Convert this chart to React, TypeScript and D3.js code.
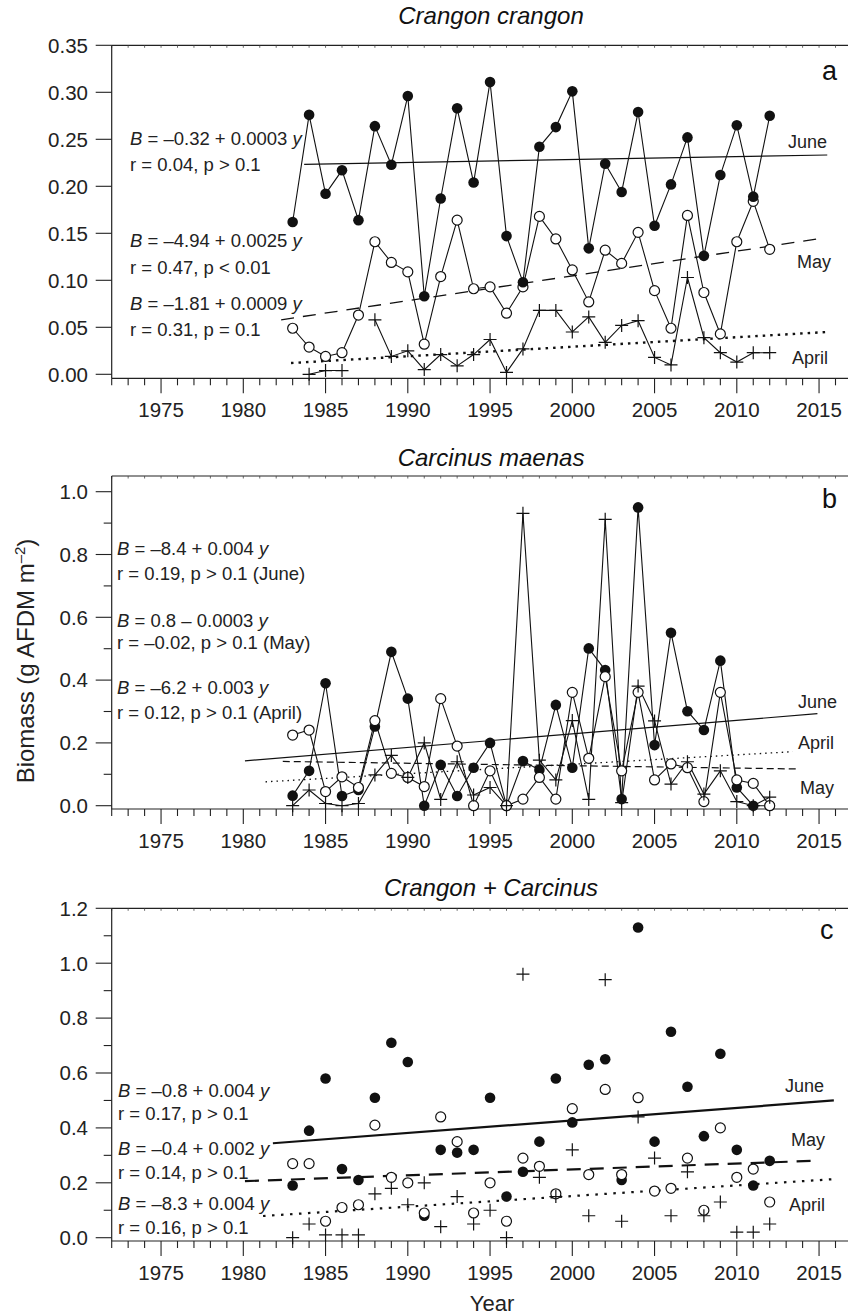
import React from 'react';
import * as d3 from 'd3';

// ---- data -------------------------------------------------------------
const years = [
  1983, 1984, 1985, 1986, 1987, 1988, 1989, 1990, 1991, 1992,
  1993, 1994, 1995, 1996, 1997, 1998, 1999, 2000, 2001, 2002,
  2003, 2004, 2005, 2006, 2007, 2008, 2009, 2010, 2011, 2012,
];
const yearTickLabels = [1975, 1980, 1985, 1990, 1995, 2000, 2005, 2010, 2015];

// Crangon crangon biomass (g AFDM m-2)
const crangonJune = [0.162, 0.276, 0.192, 0.217, 0.164, 0.264, 0.223, 0.296, 0.083, 0.187, 0.283, 0.204, 0.311, 0.147, 0.098, 0.242, 0.263, 0.301, 0.134, 0.224, 0.194, 0.279, 0.158, 0.202, 0.252, 0.126, 0.212, 0.265, 0.189, 0.275];
const crangonMay = [0.049, 0.029, 0.019, 0.023, 0.063, 0.141, 0.119, 0.109, 0.032, 0.104, 0.164, 0.091, 0.093, 0.065, 0.093, 0.168, 0.144, 0.111, 0.077, 0.132, 0.118, 0.151, 0.089, 0.049, 0.169, 0.087, 0.043, 0.141, 0.184, 0.133];
const crangonApril = [null, 0.0, 0.004, 0.004, null, 0.058, 0.019, 0.025, 0.005, 0.021, 0.009, 0.021, 0.037, 0.002, 0.027, 0.068, 0.068, 0.045, 0.061, 0.034, 0.052, 0.057, 0.018, 0.01, 0.103, 0.039, 0.023, 0.013, 0.023, 0.023];

// Carcinus maenas biomass
const carcinusJune = [0.032, 0.111, 0.39, 0.031, 0.05, 0.252, 0.49, 0.341, 0.0, 0.13, 0.031, 0.121, 0.2, 0.0, 0.142, 0.114, 0.321, 0.121, 0.501, 0.432, 0.021, 0.95, 0.193, 0.551, 0.301, 0.241, 0.462, 0.058, 0.0, 0.0];
const carcinusMay = [0.225, 0.241, 0.045, 0.092, 0.058, 0.271, 0.103, 0.09, 0.061, 0.341, 0.19, 0.0, 0.111, 0.0, 0.021, 0.09, 0.021, 0.361, 0.151, 0.411, 0.111, 0.361, 0.082, 0.133, 0.121, 0.013, 0.361, 0.082, 0.071, 0.0];
const carcinusApril = [0.0, 0.05, 0.007, 0.0, 0.007, 0.098, 0.16, 0.09, 0.2, 0.02, 0.14, 0.034, 0.058, 0.0, 0.931, 0.145, 0.082, 0.271, 0.02, 0.912, 0.01, 0.381, 0.27, 0.069, 0.14, 0.037, 0.111, 0.013, 0.0, 0.027];

// Crangon + Carcinus combined biomass
const combinedJune = [0.19, 0.39, 0.58, 0.25, 0.21, 0.51, 0.71, 0.64, 0.08, 0.32, 0.31, 0.32, 0.51, 0.15, 0.24, 0.35, 0.58, 0.42, 0.63, 0.65, 0.21, 1.13, 0.35, 0.75, 0.55, 0.37, 0.67, 0.32, 0.19, 0.28];
const combinedMay = [0.27, 0.27, 0.06, 0.11, 0.12, 0.41, 0.22, 0.2, 0.09, 0.44, 0.35, 0.09, 0.2, 0.06, 0.29, 0.26, 0.16, 0.47, 0.23, 0.54, 0.23, 0.51, 0.17, 0.18, 0.29, 0.1, 0.4, 0.22, 0.25, 0.13];
const combinedApril = [0.0, 0.05, 0.01, 0.01, 0.01, 0.16, 0.18, 0.12, 0.2, 0.04, 0.15, 0.05, 0.1, 0.0, 0.96, 0.22, 0.15, 0.32, 0.08, 0.94, 0.06, 0.44, 0.29, 0.08, 0.24, 0.08, 0.13, 0.02, 0.02, 0.05];

// Fitted regression lines: [startYear, startBiomass, endYear, endBiomass]
const crangonTrends = {
  june: [1983.7, 0.2234, 2015.5, 0.2333],
  may: [1982.3, 0.058, 2015.3, 0.145],
  april: [1982.9, 0.012, 2015.5, 0.045],
};
const carcinusTrends = {
  june: [1980.1, 0.143, 2014.9, 0.293],
  may: [1982.4, 0.141, 2013.6, 0.117],
  april: [1981.35, 0.076, 2013.4, 0.172],
};
const combinedTrends = {
  june: [1981.8, 0.344, 2015.9, 0.5],
  may: [1980.1, 0.206, 2014.6, 0.28],
  april: [1981.2, 0.079, 2015.8, 0.213],
};

// Regression equations and statistics
const crangonEquations = [
  ['–0.32 + 0.0003', 'r = 0.04, p > 0.1'],
  ['–4.94 + 0.0025', 'r = 0.47, p < 0.01'],
  ['–1.81 + 0.0009', 'r = 0.31, p = 0.1'],
];
const carcinusEquations = [
  ['–8.4 + 0.004', 'r = 0.19, p > 0.1 (June)'],
  ['0.8 – 0.0003', 'r = –0.02, p > 0.1 (May)'],
  ['–6.2 + 0.003', 'r = 0.12, p > 0.1 (April)'],
];
const combinedEquations = [
  ['–0.8 + 0.004', 'r = 0.17, p > 0.1'],
  ['–0.4 + 0.002', 'r = 0.14, p > 0.1'],
  ['–8.3 + 0.004', 'r = 0.16, p > 0.1'],
];

const monthNames = ['June', 'May', 'April'];

// ---- layout -----------------------------------------------------------
const FONT = "'Liberation Sans', Arial, Helvetica, sans-serif";
const W = 848;
const H = 1316;
const x = d3.scaleLinear().domain([1972, 2018]).range([111.7, 868.4]);

type Trend = number[];
type PanelDef = {
  title: string;
  letter: string;
  letterPos: [number, number];
  titleY: number;
  yMax: number;
  y0: number;
  yTop: number;
  frameTop: number;
  axisY: number;
  major: number;
  minor: number | null;
  fmt: string;
  connect: boolean;
  june: (number | null)[];
  may: (number | null)[];
  april: (number | null)[];
  trends: { june: Trend; may: Trend; april: Trend };
  trendStyle: { june: any; may: any; april: any };
  equations: string[][];
  eqX: number;
  eqY: number[];
  monthLabels: [number, number][];
  markerOrder: string[];
};

const panels: PanelDef[] = [
  {
    title: 'Crangon crangon',
    letter: 'a',
    letterPos: [822, 80],
    titleY: 24,
    yMax: 0.35,
    y0: 374.3,
    yTop: 45.3,
    frameTop: 45.3,
    axisY: 378.3,
    major: 0.05,
    minor: null,
    fmt: '.2f',
    connect: true,
    june: crangonJune,
    may: crangonMay,
    april: crangonApril,
    trends: crangonTrends,
    trendStyle: {
      june: { w: 1.2, dash: null },
      may: { w: 1.3, dash: '13,9' },
      april: { w: 2.4, dash: '2.5,5' },
    },
    equations: crangonEquations,
    eqX: 130,
    eqY: [138, 164, 240, 267, 303, 329],
    monthLabels: [[788, 142], [797, 262], [792, 358]],
    markerOrder: ['april', 'may', 'june'],
  },
  {
    title: 'Carcinus maenas',
    letter: 'b',
    letterPos: [822, 508],
    titleY: 466,
    yMax: 1.0,
    y0: 805.7,
    yTop: 491.7,
    frameTop: 476,
    axisY: 809,
    major: 0.2,
    minor: 0.1,
    fmt: '.1f',
    connect: true,
    june: carcinusJune,
    may: carcinusMay,
    april: carcinusApril,
    trends: carcinusTrends,
    trendStyle: {
      june: { w: 1.2, dash: null },
      may: { w: 1.2, dash: '7,4' },
      april: { w: 1.3, dash: '1.5,4' },
    },
    equations: carcinusEquations,
    eqX: 117,
    eqY: [548, 573, 620, 642, 687, 712],
    monthLabels: [[798, 702], [800, 788], [798, 743]],
    markerOrder: ['june', 'may', 'april'],
  },
  {
    title: 'Crangon + Carcinus',
    letter: 'c',
    letterPos: [820, 939],
    titleY: 896,
    yMax: 1.2,
    y0: 1237.7,
    yTop: 908.3,
    frameTop: 908.3,
    axisY: 1241,
    major: 0.2,
    minor: 0.1,
    fmt: '.1f',
    connect: false,
    june: combinedJune,
    may: combinedMay,
    april: combinedApril,
    trends: combinedTrends,
    trendStyle: {
      june: { w: 2.2, dash: null },
      may: { w: 2.2, dash: '14,9' },
      april: { w: 2.2, dash: '2.5,6.5' },
    },
    equations: combinedEquations,
    eqX: 118,
    eqY: [1090, 1113, 1148, 1172, 1203, 1227],
    monthLabels: [[785, 1086], [791, 1140], [789, 1205]],
    markerOrder: ['june', 'may', 'april'],
  },
];

const allYears = d3.range(1972, 2019);

function Marker({ kind, cx, cy }: { kind: string; cx: number; cy: number }) {
  if (kind === 'june') return <circle cx={cx} cy={cy} r={5.3} fill="#111" />;
  if (kind === 'may')
    return <circle cx={cx} cy={cy} r={5} fill="#fff" stroke="#111" strokeWidth={1.2} />;
  const s = 6.5;
  return (
    <path
      d={`M${cx - s},${cy}H${cx + s}M${cx},${cy - s}V${cy + s}`}
      stroke="#111"
      strokeWidth={1.2}
      fill="none"
    />
  );
}

function Panel({ p }: { p: PanelDef }) {
  const y = d3.scaleLinear().domain([0, p.yMax]).range([p.y0, p.yTop]);
  const fmt = d3.format(p.fmt);
  const nMajor = Math.round(p.yMax / p.major);
  const majorTicks = d3.range(0, nMajor + 1).map((i) => i * p.major);
  const minorTicks = p.minor
    ? d3.range(0, Math.round(p.yMax / p.minor) + 1)
        .map((i) => i * p.minor!)
        .filter((v) => Math.abs(v / p.major - Math.round(v / p.major)) > 1e-6)
    : [];
  const line = d3
    .line<[number, number | null]>()
    .defined((d) => d[1] != null)
    .x((d) => x(d[0]))
    .y((d) => y(d[1] as number));
  const series: Record<string, (number | null)[]> = {
    june: p.june,
    may: p.may,
    april: p.april,
  };
  const xRight = W;

  return (
    <g>
      {/* title */}
      <text
        x={491}
        y={p.titleY}
        textAnchor="middle"
        fontStyle="italic"
        fontSize={24}
        fill="#111"
      >
        {p.title}
      </text>
      {/* frame: top line with small inward ticks, left axis, bottom axis */}
      <line x1={x(1972)} x2={xRight} y1={p.frameTop} y2={p.frameTop} stroke="#222" strokeWidth={1.2} />
      {allYears.map((yr) => (
        <line key={'tt' + yr} x1={x(yr)} x2={x(yr)} y1={p.frameTop} y2={p.frameTop + 2.5} stroke="#444" strokeWidth={0.8} />
      ))}
      <line x1={x(1972)} x2={x(1972)} y1={p.frameTop} y2={p.axisY} stroke="#222" strokeWidth={1.2} />
      <line x1={x(1972)} x2={xRight} y1={p.axisY} y2={p.axisY} stroke="#222" strokeWidth={1.2} />
      {/* x ticks */}
      {allYears.map((yr) => (
        <line
          key={'xt' + yr}
          x1={x(yr)}
          x2={x(yr)}
          y1={p.axisY}
          y2={p.axisY + (yr % 5 === 0 ? 15 : 7)}
          stroke="#222"
          strokeWidth={1.1}
        />
      ))}
      {yearTickLabels.map((yr) => (
        <text key={'xl' + yr} x={x(yr)} y={p.axisY + 39} textAnchor="middle" fontSize={20.5} fill="#222">
          {yr}
        </text>
      ))}
      {/* y ticks */}
      {majorTicks.map((v) => (
        <g key={'ym' + v}>
          <line x1={x(1972) - 16} x2={x(1972)} y1={y(v)} y2={y(v)} stroke="#222" strokeWidth={1.1} />
          <text x={88} y={y(v)} dy="0.36em" textAnchor="end" fontSize={20.5} fill="#222">
            {fmt(v)}
          </text>
        </g>
      ))}
      {minorTicks.map((v) => (
        <line key={'yn' + v} x1={x(1972) - 8} x2={x(1972)} y1={y(v)} y2={y(v)} stroke="#222" strokeWidth={1.1} />
      ))}
      {/* panel letter */}
      <text x={p.letterPos[0]} y={p.letterPos[1]} fontSize={27} fill="#111">
        {p.letter}
      </text>
      {/* regression lines */}
      {(['june', 'may', 'april'] as const).map((k) => {
        const t = p.trends[k];
        const st = p.trendStyle[k];
        return (
          <line
            key={'tr' + k}
            x1={x(t[0])}
            y1={y(t[1])}
            x2={x(t[2])}
            y2={y(t[3])}
            stroke="#111"
            strokeWidth={st.w}
            strokeDasharray={st.dash || undefined}
          />
        );
      })}
      {/* connecting lines */}
      {p.connect &&
        (['april', 'may', 'june'] as const).map((k) => (
          <path
            key={'ln' + k}
            d={line(years.map((yr, i) => [yr, series[k][i]]) as any) || ''}
            fill="none"
            stroke="#111"
            strokeWidth={1.1}
          />
        ))}
      {/* markers */}
      {p.markerOrder.map((k) =>
        years.map((yr, i) =>
          series[k][i] == null ? null : (
            <Marker key={k + yr} kind={k} cx={x(yr)} cy={y(series[k][i] as number)} />
          )
        )
      )}
      {/* equations */}
      {p.equations.map((eq, i) => (
        <g key={'eq' + i} fontSize={18.5} fill="#222">
          <text x={p.eqX} y={p.eqY[i * 2]} dy="0.36em">
            <tspan fontStyle="italic">B</tspan>
            {` = ${eq[0]} `}
            <tspan fontStyle="italic">y</tspan>
          </text>
          <text x={p.eqX} y={p.eqY[i * 2 + 1]} dy="0.36em">
            {eq[1]}
          </text>
        </g>
      ))}
      {/* month labels */}
      {monthNames.map((m, i) => (
        <text key={'ml' + m} x={p.monthLabels[i][0]} y={p.monthLabels[i][1]} dy="0.36em" fontSize={18} fill="#222">
          {m}
        </text>
      ))}
    </g>
  );
}

export default function App() {
  return (
    <svg
      width={W}
      height={H}
      viewBox={`0 0 ${W} ${H}`}
      style={{ position: 'absolute', left: 0, top: 0, background: '#fff' }}
      fontFamily={FONT}
    >
      <rect width={W} height={H} fill="#fff" />
      {panels.map((p) => (
        <Panel key={p.letter} p={p} />
      ))}
      <text
        transform="translate(25,661) rotate(-90)"
        textAnchor="middle"
        dy="0.36em"
        fontSize={24}
        fill="#222"
      >
        Biomass (g AFDM m
        <tspan fontSize={15} dy={-9}>–2</tspan>
        <tspan dy={9}>)</tspan>
      </text>
      <text x={492} y={1311} textAnchor="middle" fontSize={22} fill="#222">
        Year
      </text>
    </svg>
  );
}
